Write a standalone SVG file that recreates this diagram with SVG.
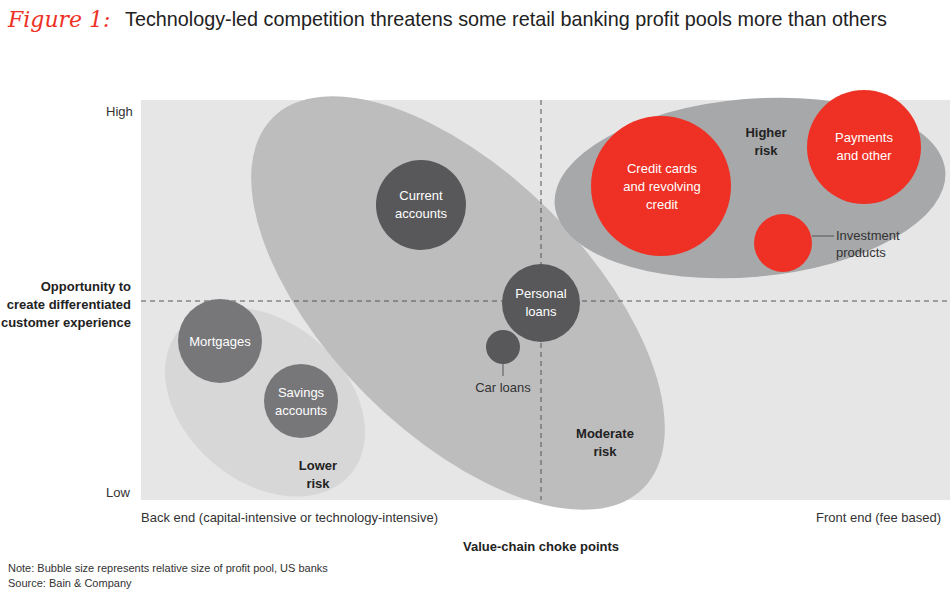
<svg xmlns="http://www.w3.org/2000/svg" width="950" height="597" viewBox="0 0 950 597">
<style>
text{font-family:"Liberation Sans",Arial,sans-serif;font-size:13px;fill:#333}
.w{fill:#fff;text-anchor:middle}
.b{font-weight:bold;text-anchor:middle;fill:#222}
.dk{fill:#58585a}.md{fill:#77777a}.rd{fill:#ee3124}
</style>
<rect width="950" height="597" fill="#fff"/>
<text x="8" y="27" style="font-family:'DejaVu Serif',serif;font-style:italic;font-size:22px;fill:#ee3124">Figure 1:</text>
<text x="125" y="26" style="font-size:19.8px;fill:#222">Technology-led competition threatens some retail banking profit pools more than others</text>
<rect x="141" y="100" width="809" height="400" fill="#e6e6e7"/>
<g id="risk-areas">
<ellipse cx="265" cy="402" rx="112" ry="80" transform="rotate(40 265 402)" fill="#d7d7d8"/>
<ellipse cx="458" cy="303" rx="262" ry="130" transform="rotate(45 458 303)" fill="#bdbdbe"/>
<ellipse cx="750" cy="188" rx="196" ry="89" transform="rotate(-5 750 188)" fill="#a7a8aa"/>
</g>
<g id="connectors" stroke="#555" fill="none">
<line x1="541" y1="100" x2="541" y2="500" stroke-dasharray="5,4"/>
<line x1="141" y1="301" x2="950" y2="301" stroke-dasharray="5,4"/>
<line x1="503" y1="364" x2="503" y2="376"/>
<line x1="812" y1="236" x2="834" y2="236"/>
</g>
<g id="current"><circle cx="421" cy="205" r="45" class="dk"/><text class="w" x="421" y="200">Current</text><text class="w" x="421" y="218">accounts</text></g>
<g id="personal"><circle cx="541" cy="303" r="39" class="dk"/><text class="w" x="541" y="298">Personal</text><text class="w" x="541" y="316">loans</text></g>
<g id="car"><circle cx="503" cy="347" r="17" class="dk"/><text x="503" y="392" style="text-anchor:middle">Car loans</text></g>
<g id="mortgages"><circle cx="220" cy="341" r="42" class="md"/><text class="w" x="220" y="346">Mortgages</text></g>
<g id="savings"><circle cx="301" cy="401" r="37" class="md"/><text class="w" x="301" y="397">Savings</text><text class="w" x="301" y="415">accounts</text></g>
<g id="credit"><circle cx="661" cy="186" r="70" class="rd"/><text class="w" x="662" y="173">Credit cards</text><text class="w" x="662" y="191">and revolving</text><text class="w" x="662" y="209">credit</text></g>
<g id="payments"><circle cx="864" cy="147" r="57" class="rd"/><text class="w" x="864" y="142">Payments</text><text class="w" x="864" y="160">and other</text></g>
<g id="investment"><circle cx="783" cy="243" r="29" class="rd"/><text x="836" y="240">Investment</text><text x="836" y="257">products</text></g>
<g id="labels">
<text class="b" x="766" y="137">Higher</text><text class="b" x="766" y="155">risk</text>
<text class="b" x="605" y="438">Moderate</text><text class="b" x="605" y="456">risk</text>
<text class="b" x="318" y="470">Lower</text><text class="b" x="318" y="488">risk</text>
<text x="106" y="116">High</text><text x="106" y="497">Low</text>
<text x="131" y="291" style="font-weight:bold;text-anchor:end;fill:#222">Opportunity to</text>
<text x="131" y="309" style="font-weight:bold;text-anchor:end;fill:#222">create differentiated</text>
<text x="131" y="327" style="font-weight:bold;text-anchor:end;fill:#222">customer experience</text>
<text x="141" y="522">Back end (capital-intensive or technology-intensive)</text>
<text x="941" y="522" style="text-anchor:end">Front end (fee based)</text>
<text class="b" x="541" y="551">Value-chain choke points</text>
<text x="8" y="572" style="font-size:11px">Note: Bubble size represents relative size of profit pool, US banks</text>
<text x="8" y="587" style="font-size:11px">Source: Bain &amp; Company</text>
</g>
</svg>
